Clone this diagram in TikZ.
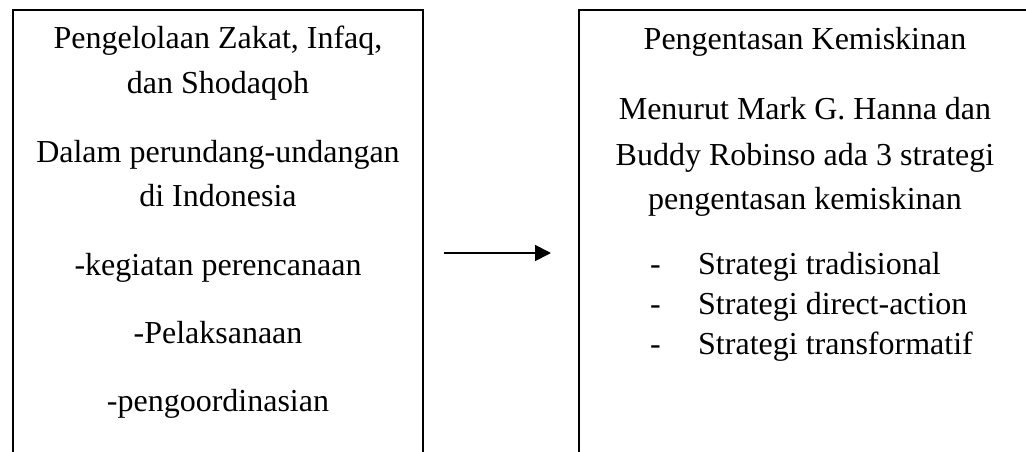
\documentclass[tikz,border=0pt]{standalone}
\usepackage{fontspec}
\setmainfont{Liberation Serif}
\usetikzlibrary{arrows.meta}
\tikzset{
  txt/.style={anchor=base, inner sep=0pt, font=\fontsize{32}{40}\selectfont},
  frame/.style={draw=black, line width=1.6pt},
  conn/.style={draw=black, line width=1.8pt, -{Triangle[length=16pt,width=16pt]}}
}
\begin{document}
\begin{tikzpicture}[x=1pt,y=-1pt]
\useasboundingbox (0,0) rectangle (1026,452);
% frames (open at the bottom)
\draw[frame] (13,453) -- (13,10) -- (423,10) -- (423,453);
\draw[frame] (579,453) -- (579,10) -- (1030,10);
% left column
\node[txt] (l1) at (218,49) {Pengelolaan Zakat, Infaq,};
\node[txt] (l2) at (218,93) {dan Shodaqoh};
\node[txt] (l3) at (218,162) {Dalam perundang-undangan};
\node[txt] (l4) at (218,206) {di Indonesia};
\node[txt] (l5) at (218,275) {-kegiatan perencanaan};
\node[txt] (l6) at (218,343) {-Pelaksanaan};
\node[txt] (l7) at (218,411) {-pengoordinasian};
% right column
\node[txt] (r1) at (805,50) {Pengentasan Kemiskinan};
\node[txt] (r2) at (805,120) {Menurut Mark G. Hanna dan};
\node[txt] (r3) at (805,165) {Buddy Robinso ada 3 strategi};
\node[txt] (r4) at (805,209) {pengentasan kemiskinan};
\node[txt, anchor=base west] (d1) at (650,274) {-};
\node[txt, anchor=base west] (d2) at (650,314) {-};
\node[txt, anchor=base west] (d3) at (650,354) {-};
\node[txt, anchor=base west] (s1) at (698,274) {Strategi tradisional};
\node[txt, anchor=base west] (s2) at (698,314) {Strategi direct-action};
\node[txt, anchor=base west] (s3) at (698,354) {Strategi transformatif};
% connector
\coordinate (a1) at (444,253);
\coordinate (a2) at (551,253);
\draw[conn] (a1) -- (a2);
\end{tikzpicture}
\end{document}
